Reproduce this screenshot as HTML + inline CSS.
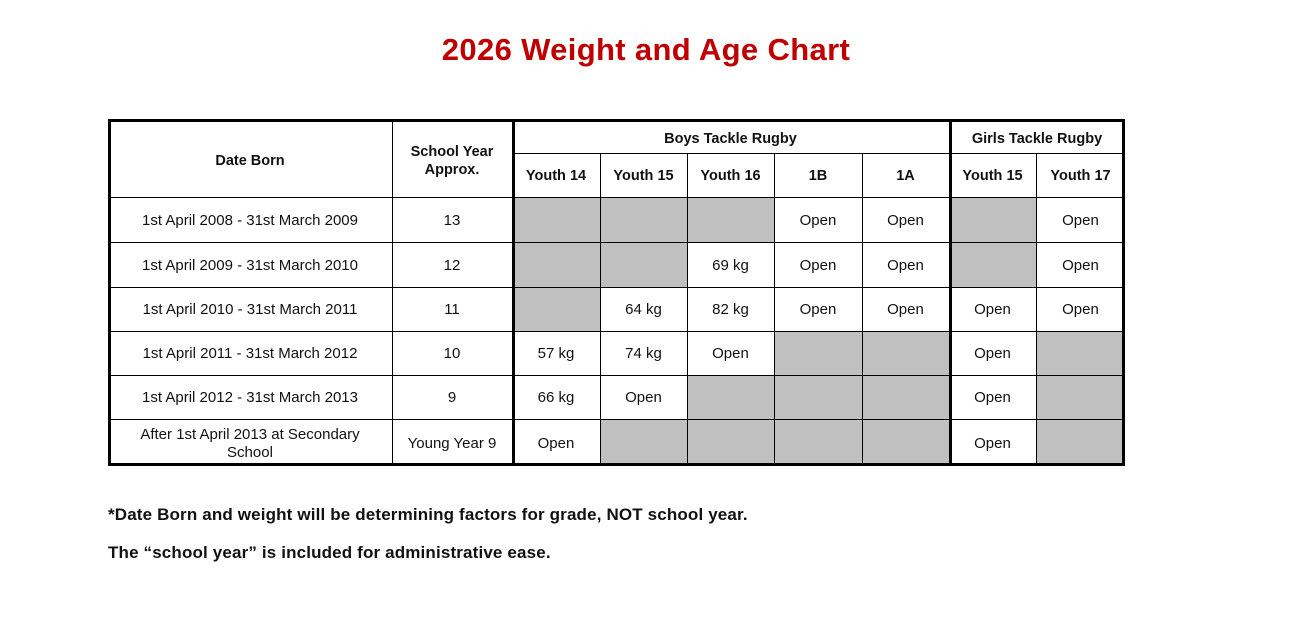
<!DOCTYPE html>
<html><head><meta charset="utf-8"><style>
body{margin:0;width:1292px;height:627px;background:#fff;position:relative;overflow:hidden;font-family:"Liberation Sans",Arial,sans-serif;color:#111}
.a{position:absolute}
.t{position:absolute;display:flex;align-items:center;justify-content:center;text-align:center;font-size:15px;line-height:18px;padding-top:2px;box-sizing:border-box}
.b{font-weight:bold;font-size:14.5px}
.g{position:absolute;background:#c0c0c0}
.h{position:absolute;background:#000;height:1px}
.v{position:absolute;background:#000;width:1px}
</style></head><body>
<div class="a" style="left:0;width:1292px;top:32px;text-align:center;color:#c00000;font-weight:bold;font-size:31px;letter-spacing:0.35px;line-height:36px;">2026 Weight and Age Chart</div>
<div id="tbl"></div>
<div class="a" style="left:108px;top:505px;font-weight:bold;font-size:17px;letter-spacing:0.15px;">*Date Born and weight will be determining factors for grade, NOT school year.</div>
<div class="a" style="left:108px;top:543px;font-weight:bold;font-size:17px;letter-spacing:0.15px;">The “school year” is included for administrative ease.</div>
<script>
var X=[108,392,512,600,687,774,862,949,1036,1125];
var Y=[119,197,242,287,331,375,419,466];
var rows=[
["1st April 2008 - 31st March 2009","13",null,null,null,"Open","Open",null,"Open"],
["1st April 2009 - 31st March 2010","12",null,null,"69 kg","Open","Open",null,"Open"],
["1st April 2010 - 31st March 2011","11",null,"64 kg","82 kg","Open","Open","Open","Open"],
["1st April 2011 - 31st March 2012","10","57 kg","74 kg","Open",null,null,"Open",null],
["1st April 2012 - 31st March 2013","9","66 kg","Open",null,null,null,"Open",null],
["After 1st April 2013 at Secondary<br>School","Young Year 9","Open",null,null,null,null,"Open",null]];
var h="";
function cell(x0,y0,x1,y1,txt,cls){h+='<div class="t '+(cls||'')+'" style="left:'+x0+'px;top:'+y0+'px;width:'+(x1-x0)+'px;height:'+(y1-y0)+'px">'+txt+'</div>';}
rows.forEach(function(r,i){for(var c=0;c<9;c++){var x0=X[c],x1=X[c+1],y0=Y[i+1],y1=Y[i+2];
 if(r[c]===null)h+='<div class="g" style="left:'+x0+'px;top:'+y0+'px;width:'+(x1-x0)+'px;height:'+(y1-y0)+'px"></div>';
 else cell(x0+4,y0,x1-4,y1,r[c]);}});
cell(X[0],122,X[1],197,"Date Born","b");
cell(X[1],122,X[2],197,"School Year<br>Approx.","b");
cell(X[2],122,X[7],153,"Boys Tackle Rugby","b");
cell(X[7],122,X[9],153,"Girls Tackle Rugby","b");
["Youth 14","Youth 15","Youth 16","1B","1A","Youth 15","Youth 17"].forEach(function(t,i){cell(X[i+2],153,X[i+3],197,t,"b");});
for(var i=1;i<Y.length-1;i++)h+='<div class="h" style="left:108px;width:1017px;top:'+Y[i]+'px"></div>';
h+='<div class="h" style="left:512px;width:613px;top:153px"></div>';
[392,600,687,774,862,1036].forEach(function(x){var top=(x==392)?119:153;h+='<div class="v" style="left:'+x+'px;top:'+top+'px;height:'+(466-top)+'px"></div>';});
h+='<div class="a" style="left:108px;top:119px;width:1011px;height:341px;border:3px solid #000"></div>';
[512,949].forEach(function(x){h+='<div class="a" style="background:#000;left:'+x+'px;top:119px;width:3px;height:347px"></div>';});
document.getElementById('tbl').innerHTML=h;
</script>
</body></html>
